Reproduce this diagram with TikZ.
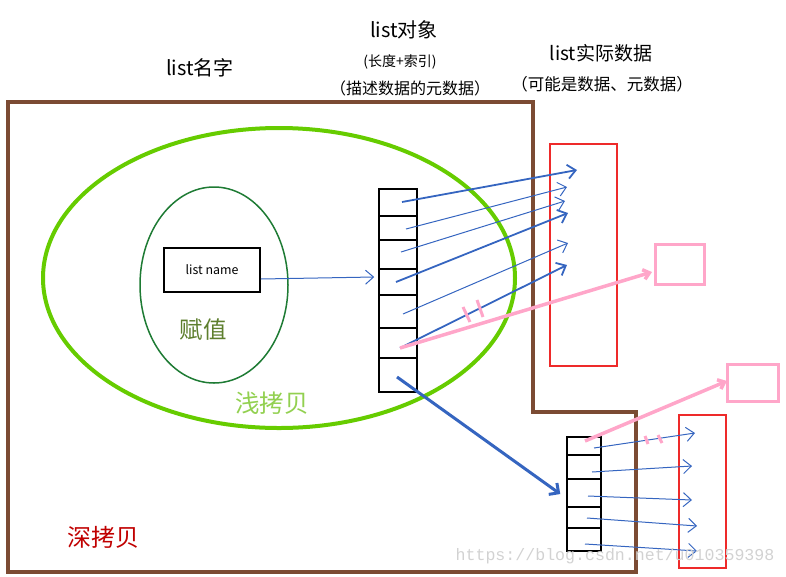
\documentclass[tikz,border=0pt]{standalone}
\usepackage{fontspec}
\setmainfont{Noto Sans CJK SC}
\newfontfamily\wmfont{Liberation Mono}
\usetikzlibrary{positioning,arrows.meta}

\definecolor{framebrown}{HTML}{7B4B33}
\definecolor{shallowgreen}{HTML}{66CC00}
\definecolor{assigngreen}{HTML}{1E7B34}
\definecolor{assigntext}{HTML}{5E7F2E}
\definecolor{shallowtext}{HTML}{92D050}
\definecolor{deeptext}{HTML}{C00000}
\definecolor{ptrblue}{HTML}{3565C0}
\definecolor{datared}{HTML}{EE2A2A}
\definecolor{metapink}{HTML}{FFA6C9}

\tikzset{
  ptr/.style={-{Straight Barb[length=8pt, width=14pt]}, ptrblue, line width=1pt},
  ptrthick/.style={-{Straight Barb[length=8pt, width=14pt]}, ptrblue, line width=1.8pt},
  metaptr/.style={-{Straight Barb[length=6pt, width=10pt]}, metapink, line width=3.5pt},
  databox/.style={draw=datared, line width=1.5pt, inner sep=0pt},
  metabox/.style={draw=metapink, line width=3pt, inner sep=0pt},
  cell/.style={draw, line width=1.5pt, inner sep=0pt}
}

\begin{document}
\begin{tikzpicture}[x=1pt, y=-1pt]

    \useasboundingbox (0,0) rectangle (786,576);

    % Headings
    \node[font=\fontsize{20}{20}\selectfont] (hname) at (200,68) {list名字};
    \node[font=\fontsize{20}{20}\selectfont] (hobj) at (404,30) {list对象};
    \node[font=\fontsize{14}{14}\selectfont] (hobjsub) at (400,62) {(长度+索引)};
    \node[font=\fontsize{16}{16}\selectfont] (hobjmeta) at (410,88) {（描述数据的元数据）};
    \node[font=\fontsize{19}{19}\selectfont] (hdata) at (601,53) {list实际数据};
    \node[font=\fontsize{16.5}{16.5}\selectfont] (hdatasub) at (602,84) {（可能是数据、元数据）};

    % Deep copy frame
    \draw[framebrown, line width=4pt] (8,102) -- (533,102) -- (533,412) -- (636,412)
        -- (636,572) -- (8,572) -- cycle;

    % Shallow copy and assignment ellipses
    \draw[shallowgreen, line width=4pt] (279,278) ellipse[x radius=236, y radius=150];
    \draw[assigngreen, line width=1.5pt] (214,285) ellipse[x radius=74, y radius=98];

    % List name
    \node[cell, minimum width=96pt, minimum height=44pt, font=\fontsize{12.4}{12.4}\selectfont]
        (lname) at (212,270) {list name};
    \node[assigntext, font=\fontsize{23.5}{23.5}\selectfont] (tassign) at (203,330) {赋值};
    \node[shallowtext, font=\fontsize{24.5}{24.5}\selectfont] (tshallow) at (272,403) {浅拷贝};
    \node[deeptext, font=\fontsize{24}{24}\selectfont] (tdeep) at (103,537) {深拷贝};

    % List object (index column)
    \node[cell, minimum width=38pt, minimum height=203pt] (obj) at (398,290.5) {};
    \foreach \y in {216,240,269,295,328,358}
      \draw[line width=1.5pt] (379,\y) -- (417,\y);

    % Actual data
    \node[databox, minimum width=67pt, minimum height=222pt] (data) at (583.5,255) {};
    \node[metabox, minimum width=49pt, minimum height=40pt] (meta) at (679.5,264) {};

    \draw[ptr] ([yshift=-9pt]lname.east) -- ([yshift=13.5pt, xshift=-4pt]obj.west);

    \coordinate (s1) at (402,202); \coordinate (e1) at (577,170);
    \coordinate (s2) at (406,229); \coordinate (e2) at (567,187);
    \coordinate (s3) at (401,252); \coordinate (e3) at (565,201);
    \coordinate (s4) at (396,282); \coordinate (e4) at (568,213);
    \coordinate (s5) at (403,314); \coordinate (e5) at (568,243);
    \coordinate (s6) at (400,348); \coordinate (e6) at (567,265);
    \draw[ptrthick] (s1) -- (e1);
    \draw[ptr] (s2) -- (e2);
    \draw[ptr] (s3) -- (e3);
    \draw[ptrthick] (s4) -- (e4);
    \draw[ptr] (s5) -- (e5);
    \draw[ptrthick] (s6) -- (e6);

    % Pointer to nested list
    \coordinate (m1) at (652,272);
    \draw[metaptr] (s6) -- (m1);
    \draw[metapink, line width=3pt] (463,307) -- (470,322);
    \draw[metapink, line width=3pt] (477,300) -- (483,317);

    % Deep copied object
    \node[cell, minimum width=34pt, minimum height=114pt] (cobj) at (584,494) {};
    \foreach \y in {455,479,507,528}
      \draw[line width=1.5pt] (567,\y) -- (601,\y);

    \coordinate (cs) at (397,377);
    \draw[-{Straight Barb[length=7pt, width=14pt]}, ptrblue, line width=3pt] (cs) -- ([xshift=-6pt]cobj.west);

    \node[databox, minimum width=47pt, minimum height=153pt] (cdata) at (702.5,491.5) {};
    \node[metabox, minimum width=51pt, minimum height=37pt] (cmeta) at (752.5,382.5) {};

    \coordinate (c1) at (594,448); \coordinate (d1) at (695,433);
    \coordinate (c2) at (592,472); \coordinate (d2) at (692,466);
    \coordinate (c3) at (588,496); \coordinate (d3) at (692,500);
    \coordinate (c4) at (587,518); \coordinate (d4) at (697,526);
    \coordinate (c5) at (585,544); \coordinate (d5) at (697,551);
    \foreach \i in {1,...,5}
      \draw[ptr] (c\i) -- (d\i);

    \coordinate (cm0) at (585,441); \coordinate (cm1) at (727,381);
    \draw[metaptr] (cm0) -- (cm1);
    \draw[metapink, line width=3pt] (645,436) -- (648,444);
    \draw[metapink, line width=3pt] (658,435) -- (662,443);

    % Watermark
    \node[gray!35, font=\wmfont\fontsize{16.6}{16.6}\selectfont] (wm) at (615,556) {https://blog.csdn.net/u010359398};

\end{tikzpicture}
\end{document}
